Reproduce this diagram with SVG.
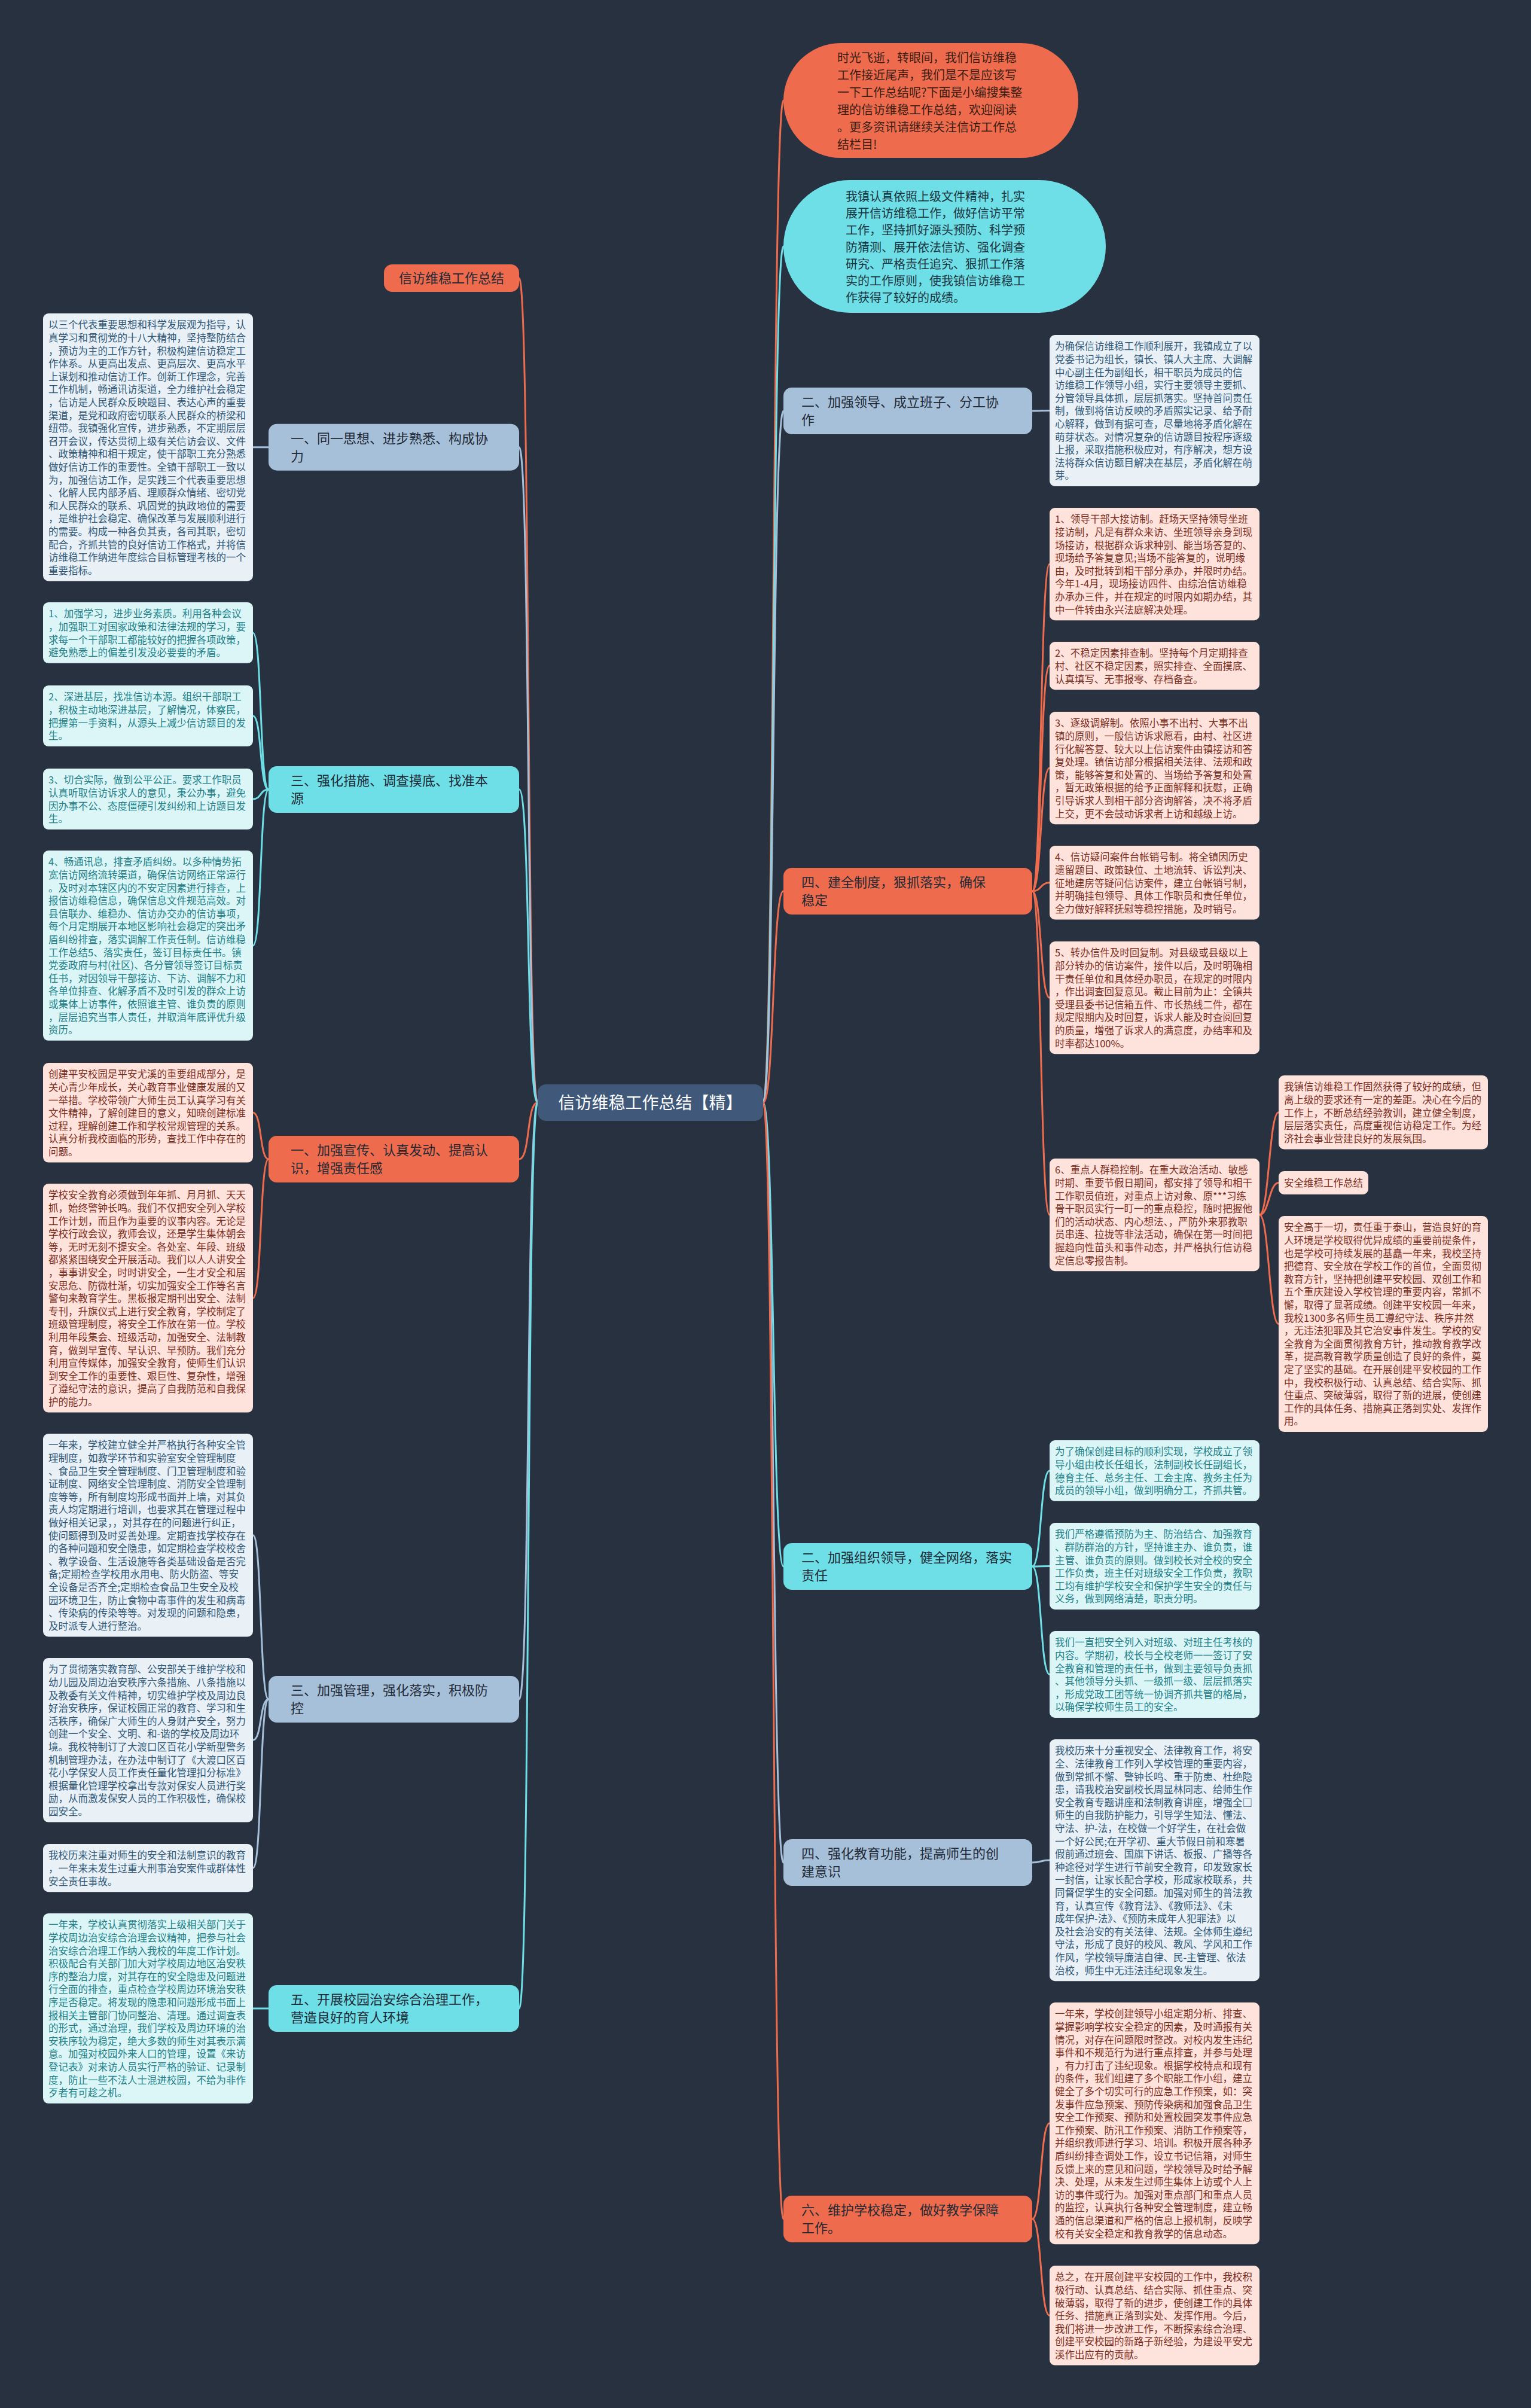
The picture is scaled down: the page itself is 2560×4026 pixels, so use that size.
<svg xmlns="http://www.w3.org/2000/svg" width="2560" height="4026" viewBox="0 0 2560 4026">
<style>
text{font-family:"Noto Sans CJK SC","Noto Sans",sans-serif}
.c{fill:none;stroke-width:3;stroke-linecap:round}
.co{stroke:#ee6c4d}.cc{stroke:#6edfe6}.cb{stroke:#a7c0d9}
.lt{font-size:16.5px}
.lb{fill:#e9f0f6}.lc{fill:#dcf6f7}.lo{fill:#fde3dc}
.tb{fill:#2f5878}.tc{fill:#1d8088}.to{fill:#7c2e1e}
.bt{font-size:22px;fill:#1f2a36}
.nb{fill:#a7c0d9}.nc{fill:#6edfe6}.no{fill:#ee6c4d}
</style>
<rect width="2560" height="4026" fill="#283140"/>
<g id="connectors">
<path class="c co" d="M899,1843.5 C880,1843.5 887,465 868,465"/>
<path class="c cb" d="M899,1843.5 C880,1843.5 887,747.7 868,747.7"/>
<path class="c cc" d="M899,1843.5 C880,1843.5 887,1320 868,1320"/>
<path class="c co" d="M899,1843.5 C880,1843.5 887,1938 868,1938"/>
<path class="c cb" d="M899,1843.5 C880,1843.5 887,2841 868,2841"/>
<path class="c cc" d="M899,1843.5 C880,1843.5 887,3358 868,3358"/>
<path class="c co" d="M1276,1843.5 C1295,1843.5 1291,168 1310,168"/>
<path class="c cc" d="M1276,1843.5 C1295,1843.5 1291,412 1310,412"/>
<path class="c cb" d="M1276,1843.5 C1295,1843.5 1291,687 1310,687"/>
<path class="c co" d="M1276,1843.5 C1295,1843.5 1291,1490 1310,1490"/>
<path class="c cc" d="M1276,1843.5 C1295,1843.5 1291,2619 1310,2619"/>
<path class="c cb" d="M1276,1843.5 C1295,1843.5 1291,3114 1310,3114"/>
<path class="c co" d="M1276,1843.5 C1295,1843.5 1291,3710 1310,3710"/>
<path class="c cb" d="M449,747.7 C434,747.7 438,747.7 423,747.7"/>
<path class="c cc" d="M449,1320 C434,1320 438,1057.9 423,1057.9"/>
<path class="c cc" d="M449,1320 C434,1320 438,1196.9 423,1196.9"/>
<path class="c cc" d="M449,1320 C434,1320 438,1335.9 423,1335.9"/>
<path class="c cc" d="M449,1320 C434,1320 438,1580.9 423,1580.9"/>
<path class="c co" d="M449,1938 C434,1938 438,1860.3 423,1860.3"/>
<path class="c co" d="M449,1938 C434,1938 438,2170.3 423,2170.3"/>
<path class="c cb" d="M449,2841 C434,2841 438,2566.7 423,2566.7"/>
<path class="c cb" d="M449,2841 C434,2841 438,2909.3 423,2909.3"/>
<path class="c cb" d="M449,2841 C434,2841 438,3123.1 423,3123.1"/>
<path class="c cc" d="M449,3358 C434,3358 438,3357.9 423,3357.9"/>
<path class="c cb" d="M1726,687 C1742,687 1739,686.5 1755,686.5"/>
<path class="c co" d="M1726,1490 C1742,1490 1739,943.1 1755,943.1"/>
<path class="c co" d="M1726,1490 C1742,1490 1739,1113.1 1755,1113.1"/>
<path class="c co" d="M1726,1490 C1742,1490 1739,1284.1 1755,1284.1"/>
<path class="c co" d="M1726,1490 C1742,1490 1739,1475.7 1755,1475.7"/>
<path class="c co" d="M1726,1490 C1742,1490 1739,1668.1 1755,1668.1"/>
<path class="c co" d="M1726,1490 C1742,1490 1739,2031.1 1755,2031.1"/>
<path class="c co" d="M2106,2031.1 C2122,2031.1 2122,1859.7 2138,1859.7"/>
<path class="c co" d="M2106,2031.1 C2122,2031.1 2122,1977.5 2138,1977.5"/>
<path class="c co" d="M2106,2031.1 C2122,2031.1 2122,2213.5 2138,2213.5"/>
<path class="c cc" d="M1726,2619 C1742,2619 1739,2458.9 1755,2458.9"/>
<path class="c cc" d="M1726,2619 C1742,2619 1739,2618.5 1755,2618.5"/>
<path class="c cc" d="M1726,2619 C1742,2619 1739,2799.5 1755,2799.5"/>
<path class="c cb" d="M1726,3114 C1742,3114 1739,3110.1 1755,3110.1"/>
<path class="c co" d="M1726,3710 C1742,3710 1739,3550.1 1755,3550.1"/>
<path class="c co" d="M1726,3710 C1742,3710 1739,3871.3 1755,3871.3"/>
</g>
<g id="center">
<rect x="899" y="1813" width="377" height="61" rx="14" fill="#40597a"/>
<text x="1087.5" y="1854" font-size="28" fill="#ffffff" text-anchor="middle">信访维稳工作总结【精】</text>
</g>
<g id="intro-orange">
<rect x="1310" y="72" width="493" height="192" rx="96" class="no"/>
<text font-size="20" fill="#3a1d14" y="104.3"><tspan x="1400">时光飞逝，转眼间，我们信访维稳</tspan><tspan x="1400" dy="29">工作接近尾声，我们是不是应该写</tspan><tspan x="1400" dy="29">一下工作总结呢?下面是小编搜集整</tspan><tspan x="1400" dy="29">理的信访维稳工作总结，欢迎阅读</tspan><tspan x="1400" dy="29">。更多资讯请继续关注信访工作总</tspan><tspan x="1400" dy="29">结栏目!</tspan></text>
</g>
<g id="intro-cyan">
<rect x="1310" y="301" width="539" height="222" rx="111" class="nc"/>
<text font-size="20" fill="#1c3440" y="335.6"><tspan x="1414">我镇认真依照上级文件精神，扎实</tspan><tspan x="1414" dy="28.3">展开信访维稳工作，做好信访平常</tspan><tspan x="1414" dy="28.3">工作，坚持抓好源头预防、科学预</tspan><tspan x="1414" dy="28.3">防猜测、展开依法信访、强化调查</tspan><tspan x="1414" dy="28.3">研究、严格责任追究、狠抓工作落</tspan><tspan x="1414" dy="28.3">实的工作原则，使我镇信访维稳工</tspan><tspan x="1414" dy="28.3">作获得了较好的成绩。</tspan></text>
</g>
<g id="b-l0"><rect x="642" y="442" width="226" height="46" rx="14" class="no"/><text class="bt" x="667" y="473.4">信访维稳工作总结</text></g>
<g id="b-l1"><rect x="449" y="708.7" width="419" height="78" rx="14" class="nb"/><text class="bt" y="741.1"><tspan x="486">一、同一思想、进步熟悉、构成协</tspan><tspan x="486" dy="30">力</tspan></text></g>
<g id="b-l2"><rect x="449" y="1281" width="419" height="78" rx="14" class="nc"/><text class="bt" y="1313.4"><tspan x="486">三、强化措施、调查摸底、找准本</tspan><tspan x="486" dy="30">源</tspan></text></g>
<g id="b-l3"><rect x="449" y="1899" width="419" height="78" rx="14" class="no"/><text class="bt" y="1931.4"><tspan x="486">一、加强宣传、认真发动、提高认</tspan><tspan x="486" dy="30">识，增强责任感</tspan></text></g>
<g id="b-l4"><rect x="449" y="2802" width="419" height="78" rx="14" class="nb"/><text class="bt" y="2834.4"><tspan x="486">三、加强管理，强化落实，积极防</tspan><tspan x="486" dy="30">控</tspan></text></g>
<g id="b-l5"><rect x="449" y="3319" width="419" height="78" rx="14" class="nc"/><text class="bt" y="3351.4"><tspan x="486">五、开展校园治安综合治理工作，</tspan><tspan x="486" dy="30">营造良好的育人环境</tspan></text></g>
<g id="b-r1"><rect x="1310" y="648" width="416" height="78" rx="14" class="nb"/><text class="bt" y="680.4"><tspan x="1340">二、加强领导、成立班子、分工协</tspan><tspan x="1340" dy="30">作</tspan></text></g>
<g id="b-r2"><rect x="1310" y="1451" width="416" height="78" rx="14" class="no"/><text class="bt" y="1483.4"><tspan x="1340">四、建全制度，狠抓落实，确保</tspan><tspan x="1340" dy="30">稳定</tspan></text></g>
<g id="b-r3"><rect x="1310" y="2580" width="416" height="78" rx="14" class="nc"/><text class="bt" y="2612.4"><tspan x="1340">二、加强组织领导，健全网络，落实</tspan><tspan x="1340" dy="30">责任</tspan></text></g>
<g id="b-r4"><rect x="1310" y="3075" width="416" height="78" rx="14" class="nb"/><text class="bt" y="3107.4"><tspan x="1340">四、强化教育功能，提高师生的创</tspan><tspan x="1340" dy="30">建意识</tspan></text></g>
<g id="b-r5"><rect x="1310" y="3671" width="416" height="78" rx="14" class="no"/><text class="bt" y="3703.4"><tspan x="1340">六、维护学校稳定，做好教学保障</tspan><tspan x="1340" dy="30">工作。</tspan></text></g>
<g id="l1"><rect x="72" y="524" width="351" height="447.4" rx="9" class="lb"/><text class="lt tb" y="549.3"><tspan x="81">以三个代表重要思想和科学发展观为指导，认</tspan><tspan x="81" dy="21.6">真学习和贯彻党的十八大精神，坚持整防结合</tspan><tspan x="81" dy="21.6">，预访为主的工作方针，积极构建信访稳定工</tspan><tspan x="81" dy="21.6">作体系。从更高出发点、更高层次、更高水平</tspan><tspan x="81" dy="21.6">上谋划和推动信访工作。创新工作理念，完善</tspan><tspan x="81" dy="21.6">工作机制，畅通讯访渠道，全力维护社会稳定</tspan><tspan x="81" dy="21.6">，信访是人民群众反映题目、表达心声的重要</tspan><tspan x="81" dy="21.6">渠道，是党和政府密切联系人民群众的桥梁和</tspan><tspan x="81" dy="21.6">纽带。我镇强化宣传，进步熟悉，不定期层层</tspan><tspan x="81" dy="21.6">召开会议，传达贯彻上级有关信访会议、文件</tspan><tspan x="81" dy="21.6">、政策精神和相干规定，使干部职工充分熟悉</tspan><tspan x="81" dy="21.6">做好信访工作的重要性。全镇干部职工一致以</tspan><tspan x="81" dy="21.6">为，加强信访工作，是实践三个代表重要思想</tspan><tspan x="81" dy="21.6">、化解人民内部矛盾、理顺群众情绪、密切党</tspan><tspan x="81" dy="21.6">和人民群众的联系、巩固党的执政地位的需要</tspan><tspan x="81" dy="21.6">，是维护社会稳定、确保改革与发展顺利进行</tspan><tspan x="81" dy="21.6">的需要。构成一种各负其责，各司其职，密切</tspan><tspan x="81" dy="21.6">配合，齐抓共管的良好信访工作格式，并将信</tspan><tspan x="81" dy="21.6">访维稳工作纳进年度综合目标管理考核的一个</tspan><tspan x="81" dy="21.6">重要指标。</tspan></text></g>
<g id="l2a"><rect x="72" y="1007" width="351" height="101.8" rx="9" class="lc"/><text class="lt tc" y="1032.3"><tspan x="81">1、加强学习，进步业务素质。利用各种会议</tspan><tspan x="81" dy="21.6">，加强职工对国家政策和法律法规的学习，要</tspan><tspan x="81" dy="21.6">求每一个干部职工都能较好的把握各项政策，</tspan><tspan x="81" dy="21.6">避免熟悉上的偏差引发没必要要的矛盾。</tspan></text></g>
<g id="l2b"><rect x="72" y="1146" width="351" height="101.8" rx="9" class="lc"/><text class="lt tc" y="1171.3"><tspan x="81">2、深进基层，找准信访本源。组织干部职工</tspan><tspan x="81" dy="21.6">，积极主动地深进基层，了解情况，体察民，</tspan><tspan x="81" dy="21.6">把握第一手资料，从源头上减少信访题目的发</tspan><tspan x="81" dy="21.6">生。</tspan></text></g>
<g id="l2c"><rect x="72" y="1285" width="351" height="101.8" rx="9" class="lc"/><text class="lt tc" y="1310.3"><tspan x="81">3、切合实际，做到公平公正。要求工作职员</tspan><tspan x="81" dy="21.6">认真听取信访诉求人的意见，秉公办事，避免</tspan><tspan x="81" dy="21.6">因办事不公、态度僵硬引发纠纷和上访题目发</tspan><tspan x="81" dy="21.6">生。</tspan></text></g>
<g id="l2d"><rect x="72" y="1422" width="351" height="317.8" rx="9" class="lc"/><text class="lt tc" y="1447.3"><tspan x="81">4、畅通讯息，排查矛盾纠纷。以多种情势拓</tspan><tspan x="81" dy="21.6">宽信访网络流转渠道，确保信访网络正常运行</tspan><tspan x="81" dy="21.6">。及时对本辖区内的不安定因素进行排查，上</tspan><tspan x="81" dy="21.6">报信访维稳信息，确保信息文件规范高效。对</tspan><tspan x="81" dy="21.6">县信联办、维稳办、信访办交办的信访事项，</tspan><tspan x="81" dy="21.6">每个月定期展开本地区影响社会稳定的突出矛</tspan><tspan x="81" dy="21.6">盾纠纷排查，落实调解工作责任制。信访维稳</tspan><tspan x="81" dy="21.6">工作总结5、落实责任，签订目标责任书。镇</tspan><tspan x="81" dy="21.6">党委政府与村(社区)、各分管领导签订目标责</tspan><tspan x="81" dy="21.6">任书，对因领导干部接访、下访、调解不力和</tspan><tspan x="81" dy="21.6">各单位排查、化解矛盾不及时引发的群众上访</tspan><tspan x="81" dy="21.6">或集体上访事件，依照谁主管、谁负责的原则</tspan><tspan x="81" dy="21.6">，层层追究当事人责任，并取消年底评优升级</tspan><tspan x="81" dy="21.6">资历。</tspan></text></g>
<g id="l3a"><rect x="72" y="1777" width="351" height="166.6" rx="9" class="lo"/><text class="lt to" y="1802.3"><tspan x="81">创建平安校园是平安尤溪的重要组成部分，是</tspan><tspan x="81" dy="21.6">关心青少年成长，关心教育事业健康发展的又</tspan><tspan x="81" dy="21.6">一举措。学校带领广大师生员工认真学习有关</tspan><tspan x="81" dy="21.6">文件精神，了解创建目的意义，知晓创建标准</tspan><tspan x="81" dy="21.6">过程，理解创建工作和学校常规管理的关系。</tspan><tspan x="81" dy="21.6">认真分析我校面临的形势，查找工作中存在的</tspan><tspan x="81" dy="21.6">问题。</tspan></text></g>
<g id="l3b"><rect x="72" y="1979" width="351" height="382.6" rx="9" class="lo"/><text class="lt to" y="2004.3"><tspan x="81">学校安全教育必须做到年年抓、月月抓、天天</tspan><tspan x="81" dy="21.6">抓，始终警钟长鸣。我们不仅把安全列入学校</tspan><tspan x="81" dy="21.6">工作计划，而且作为重要的议事内容。无论是</tspan><tspan x="81" dy="21.6">学校行政会议，教师会议，还是学生集体朝会</tspan><tspan x="81" dy="21.6">等，无时无刻不提安全。各处室、年段、班级</tspan><tspan x="81" dy="21.6">都紧紧围绕安全开展活动。我们以人人讲安全</tspan><tspan x="81" dy="21.6">，事事讲安全，时时讲安全，一生才安全和居</tspan><tspan x="81" dy="21.6">安思危、防微杜渐，切实加强安全工作等名言</tspan><tspan x="81" dy="21.6">警句来教育学生。黑板报定期刊出安全、法制</tspan><tspan x="81" dy="21.6">专刊，升旗仪式上进行安全教育，学校制定了</tspan><tspan x="81" dy="21.6">班级管理制度，将安全工作放在第一位。学校</tspan><tspan x="81" dy="21.6">利用年段集会、班级活动，加强安全、法制教</tspan><tspan x="81" dy="21.6">育，做到早宣传、早认识、早预防。我们充分</tspan><tspan x="81" dy="21.6">利用宣传媒体，加强安全教育，使师生们认识</tspan><tspan x="81" dy="21.6">到安全工作的重要性、艰巨性、复杂性，增强</tspan><tspan x="81" dy="21.6">了遵纪守法的意识，提高了自我防范和自我保</tspan><tspan x="81" dy="21.6">护的能力。</tspan></text></g>
<g id="l4a"><rect x="72" y="2397" width="351" height="339.4" rx="9" class="lb"/><text class="lt tb" y="2422.3"><tspan x="81">一年来，学校建立健全并严格执行各种安全管</tspan><tspan x="81" dy="21.6">理制度，如教学环节和实验室安全管理制度</tspan><tspan x="81" dy="21.6">、食品卫生安全管理制度、门卫管理制度和验</tspan><tspan x="81" dy="21.6">证制度、网络安全管理制度、消防安全管理制</tspan><tspan x="81" dy="21.6">度等等，所有制度均形成书面并上墙，对其负</tspan><tspan x="81" dy="21.6">责人均定期进行培训，也要求其在管理过程中</tspan><tspan x="81" dy="21.6">做好相关记录，，对其存在的问题进行纠正，</tspan><tspan x="81" dy="21.6">使问题得到及时妥善处理。定期查找学校存在</tspan><tspan x="81" dy="21.6">的各种问题和安全隐患，如定期检查学校校舍</tspan><tspan x="81" dy="21.6">、教学设备、生活设施等各类基础设备是否完</tspan><tspan x="81" dy="21.6">备;定期检查学校用水用电、防火防盗、等安</tspan><tspan x="81" dy="21.6">全设备是否齐全;定期检查食品卫生安全及校</tspan><tspan x="81" dy="21.6">园环境卫生，防止食物中毒事件的发生和病毒</tspan><tspan x="81" dy="21.6">、传染病的传染等等。对发现的问题和隐患，</tspan><tspan x="81" dy="21.6">及时派专人进行整治。</tspan></text></g>
<g id="l4b"><rect x="72" y="2772" width="351" height="274.6" rx="9" class="lb"/><text class="lt tb" y="2797.3"><tspan x="81">为了贯彻落实教育部、公安部关于维护学校和</tspan><tspan x="81" dy="21.6">幼儿园及周边治安秩序六条措施、八条措施以</tspan><tspan x="81" dy="21.6">及教委有关文件精神，切实维护学校及周边良</tspan><tspan x="81" dy="21.6">好治安秩序，保证校园正常的教育、学习和生</tspan><tspan x="81" dy="21.6">活秩序，确保广大师生的人身财产安全，努力</tspan><tspan x="81" dy="21.6">创建一个安全、文明、和-谐的学校及周边环</tspan><tspan x="81" dy="21.6">境。我校特制订了大渡口区百花小学新型警务</tspan><tspan x="81" dy="21.6">机制管理办法，在办法中制订了《大渡口区百</tspan><tspan x="81" dy="21.6">花小学保安人员工作责任量化管理扣分标准》</tspan><tspan x="81" dy="21.6">根据量化管理学校拿出专款对保安人员进行奖</tspan><tspan x="81" dy="21.6">励，从而激发保安人员的工作积极性，确保校</tspan><tspan x="81" dy="21.6">园安全。</tspan></text></g>
<g id="l4c"><rect x="72" y="3083" width="351" height="80.2" rx="9" class="lb"/><text class="lt tb" y="3108.3"><tspan x="81">我校历来注重对师生的安全和法制意识的教育</tspan><tspan x="81" dy="21.6">，一年来未发生过重大刑事治安案件或群体性</tspan><tspan x="81" dy="21.6">安全责任事故。</tspan></text></g>
<g id="l5"><rect x="72" y="3199" width="351" height="317.8" rx="9" class="lc"/><text class="lt tc" y="3224.3"><tspan x="81">一年来，学校认真贯彻落实上级相关部门关于</tspan><tspan x="81" dy="21.6">学校周边治安综合治理会议精神，把参与社会</tspan><tspan x="81" dy="21.6">治安综合治理工作纳入我校的年度工作计划。</tspan><tspan x="81" dy="21.6">积极配合有关部门加大对学校周边地区治安秩</tspan><tspan x="81" dy="21.6">序的整治力度，对其存在的安全隐患及问题进</tspan><tspan x="81" dy="21.6">行全面的排查，重点检查学校周边环境治安秩</tspan><tspan x="81" dy="21.6">序是否稳定。将发现的隐患和问题形成书面上</tspan><tspan x="81" dy="21.6">报相关主管部门协同整治、清理。通过调查表</tspan><tspan x="81" dy="21.6">的形式，通过治理，我们学校及周边环境的治</tspan><tspan x="81" dy="21.6">安秩序较为稳定，绝大多数的师生对其表示满</tspan><tspan x="81" dy="21.6">意。加强对校园外来人口的管理，设置《来访</tspan><tspan x="81" dy="21.6">登记表》对来访人员实行严格的验证、记录制</tspan><tspan x="81" dy="21.6">度，防止一些不法人士混进校园，不给为非作</tspan><tspan x="81" dy="21.6">歹者有可趁之机。</tspan></text></g>
<g id="r1"><rect x="1755" y="560" width="351" height="253" rx="9" class="lb"/><text class="lt tb" y="585.3"><tspan x="1764">为确保信访维稳工作顺利展开，我镇成立了以</tspan><tspan x="1764" dy="21.6">党委书记为组长，镇长、镇人大主席、大调解</tspan><tspan x="1764" dy="21.6">中心副主任为副组长，相干职员为成员的信</tspan><tspan x="1764" dy="21.6">访维稳工作领导小组，实行主要领导主要抓、</tspan><tspan x="1764" dy="21.6">分管领导具体抓，层层抓落实。坚持首问责任</tspan><tspan x="1764" dy="21.6">制，做到将信访反映的矛盾照实记录、给予耐</tspan><tspan x="1764" dy="21.6">心解释，做到有据可查，尽量地将矛盾化解在</tspan><tspan x="1764" dy="21.6">萌芽状态。对情况复杂的信访题目按程序逐级</tspan><tspan x="1764" dy="21.6">上报，采取措施积极应对，有序解决，想方设</tspan><tspan x="1764" dy="21.6">法将群众信访题目解决在基层，矛盾化解在萌</tspan><tspan x="1764" dy="21.6">芽。</tspan></text></g>
<g id="r2a"><rect x="1755" y="849" width="351" height="188.2" rx="9" class="lo"/><text class="lt to" y="874.3"><tspan x="1764">1、领导干部大接访制。赶场天坚持领导坐班</tspan><tspan x="1764" dy="21.6">接访制，凡是有群众来访、坐班领导亲身到现</tspan><tspan x="1764" dy="21.6">场接访，根据群众诉求种别、能当场答复的、</tspan><tspan x="1764" dy="21.6">现场给予答复意见;当场不能答复的，说明缘</tspan><tspan x="1764" dy="21.6">由，及时批转到相干部分承办，并限时办结。</tspan><tspan x="1764" dy="21.6">今年1-4月，现场接访四件、由综治信访维稳</tspan><tspan x="1764" dy="21.6">办承办三件，并在规定的时限内如期办结，其</tspan><tspan x="1764" dy="21.6">中一件转由永兴法庭解决处理。</tspan></text></g>
<g id="r2b"><rect x="1755" y="1073" width="351" height="80.2" rx="9" class="lo"/><text class="lt to" y="1098.3"><tspan x="1764">2、不稳定因素排查制。坚持每个月定期排查</tspan><tspan x="1764" dy="21.6">村、社区不稳定因素，照实排查、全面摸底、</tspan><tspan x="1764" dy="21.6">认真填写、无事报零、存档备查。</tspan></text></g>
<g id="r2c"><rect x="1755" y="1190" width="351" height="188.2" rx="9" class="lo"/><text class="lt to" y="1215.3"><tspan x="1764">3、逐级调解制。依照小事不出村、大事不出</tspan><tspan x="1764" dy="21.6">镇的原则，一般信访诉求愿看，由村、社区进</tspan><tspan x="1764" dy="21.6">行化解答复、较大以上信访案件由镇接访和答</tspan><tspan x="1764" dy="21.6">复处理。镇信访部分根据相关法律、法规和政</tspan><tspan x="1764" dy="21.6">策，能够答复和处置的、当场给予答复和处置</tspan><tspan x="1764" dy="21.6">，暂无政策根据的给予正面解释和抚慰，正确</tspan><tspan x="1764" dy="21.6">引导诉求人到相干部分咨询解答，决不将矛盾</tspan><tspan x="1764" dy="21.6">上交，更不会鼓动诉求者上访和越级上访。</tspan></text></g>
<g id="r2d"><rect x="1755" y="1414" width="351" height="123.4" rx="9" class="lo"/><text class="lt to" y="1439.3"><tspan x="1764">4、信访疑问案件台帐销号制。将全镇因历史</tspan><tspan x="1764" dy="21.6">遗留题目、政策缺位、土地流转、诉讼判决、</tspan><tspan x="1764" dy="21.6">征地建房等疑问信访案件，建立台帐销号制，</tspan><tspan x="1764" dy="21.6">并明确挂包领导、具体工作职员和责任单位，</tspan><tspan x="1764" dy="21.6">全力做好解释抚慰等稳控措施，及时销号。</tspan></text></g>
<g id="r2e"><rect x="1755" y="1574" width="351" height="188.2" rx="9" class="lo"/><text class="lt to" y="1599.3"><tspan x="1764">5、转办信件及时回复制。对县级或县级以上</tspan><tspan x="1764" dy="21.6">部分转办的信访案件，接件以后，及时明确相</tspan><tspan x="1764" dy="21.6">干责任单位和具体经办职员，在规定的时限内</tspan><tspan x="1764" dy="21.6">，作出调查回复意见。截止目前为止：全镇共</tspan><tspan x="1764" dy="21.6">受理县委书记信箱五件、市长热线二件，都在</tspan><tspan x="1764" dy="21.6">规定限期内及时回复，诉求人能及时查阅回复</tspan><tspan x="1764" dy="21.6">的质量，增强了诉求人的满意度，办结率和及</tspan><tspan x="1764" dy="21.6">时率都达100%。</tspan></text></g>
<g id="r2f"><rect x="1755" y="1937" width="351" height="188.2" rx="9" class="lo"/><text class="lt to" y="1962.3"><tspan x="1764">6、重点人群稳控制。在重大政治活动、敏感</tspan><tspan x="1764" dy="21.6">时期、重要节假日期间，都安排了领导和相干</tspan><tspan x="1764" dy="21.6">工作职员值班，对重点上访对象、原***习练</tspan><tspan x="1764" dy="21.6">骨干职员实行一盯一的重点稳控，随时把握他</tspan><tspan x="1764" dy="21.6">们的活动状态、内心想法、，严防外来邪教职</tspan><tspan x="1764" dy="21.6">员串连、拉拢等非法活动，确保在第一时间把</tspan><tspan x="1764" dy="21.6">握趋向性苗头和事件动态，并严格执行信访稳</tspan><tspan x="1764" dy="21.6">定信息零报告制。</tspan></text></g>
<g id="r3a"><rect x="2138" y="1798" width="350" height="123.4" rx="9" class="lo"/><text class="lt to" y="1823.3"><tspan x="2147">我镇信访维稳工作固然获得了较好的成绩，但</tspan><tspan x="2147" dy="21.6">离上级的要求还有一定的差距。决心在今后的</tspan><tspan x="2147" dy="21.6">工作上，不断总结经验教训，建立健全制度，</tspan><tspan x="2147" dy="21.6">层层落实责任，高度重视信访稳定工作。为经</tspan><tspan x="2147" dy="21.6">济社会事业营建良好的发展氛围。</tspan></text></g>
<g id="r3s"><rect x="2138" y="1958" width="150" height="39" rx="9" class="lo"/><text class="lt to" x="2147" y="1983.5">安全维稳工作总结</text></g>
<g id="r3b"><rect x="2138" y="2033" width="350" height="361" rx="9" class="lo"/><text class="lt to" y="2058.3"><tspan x="2147">安全高于一切，责任重于泰山，营造良好的育</tspan><tspan x="2147" dy="21.6">人环境是学校取得优异成绩的重要前提条件，</tspan><tspan x="2147" dy="21.6">也是学校可持续发展的基矗一年来，我校坚持</tspan><tspan x="2147" dy="21.6">把德育、安全放在学校工作的首位，全面贯彻</tspan><tspan x="2147" dy="21.6">教育方针，坚持把创建平安校园、双创工作和</tspan><tspan x="2147" dy="21.6">五个重庆建设入学校管理的重要内容，常抓不</tspan><tspan x="2147" dy="21.6">懈，取得了显著成绩。创建平安校园一年来，</tspan><tspan x="2147" dy="21.6">我校1300多名师生员工遵纪守法、秩序井然</tspan><tspan x="2147" dy="21.6">，无违法犯罪及其它治安事件发生。学校的安</tspan><tspan x="2147" dy="21.6">全教育为全面贯彻教育方针，推动教育教学改</tspan><tspan x="2147" dy="21.6">革，提高教育教学质量创造了良好的条件，奠</tspan><tspan x="2147" dy="21.6">定了坚实的基础。在开展创建平安校园的工作</tspan><tspan x="2147" dy="21.6">中，我校积极行动、认真总结、结合实际、抓</tspan><tspan x="2147" dy="21.6">住重点、突破薄弱，取得了新的进展，使创建</tspan><tspan x="2147" dy="21.6">工作的具体任务、措施真正落到实处、发挥作</tspan><tspan x="2147" dy="21.6">用。</tspan></text></g>
<g id="r4a"><rect x="1755" y="2408" width="351" height="101.8" rx="9" class="lc"/><text class="lt tc" y="2433.3"><tspan x="1764">为了确保创建目标的顺利实现，学校成立了领</tspan><tspan x="1764" dy="21.6">导小组由校长任组长，法制副校长任副组长，</tspan><tspan x="1764" dy="21.6">德育主任、总务主任、工会主席、教务主任为</tspan><tspan x="1764" dy="21.6">成员的领导小组，做到明确分工，齐抓共管。</tspan></text></g>
<g id="r4b"><rect x="1755" y="2546" width="351" height="145" rx="9" class="lc"/><text class="lt tc" y="2571.3"><tspan x="1764">我们严格遵循预防为主、防治结合、加强教育</tspan><tspan x="1764" dy="21.6">、群防群治的方针，坚持谁主办、谁负责，谁</tspan><tspan x="1764" dy="21.6">主管、谁负责的原则。做到校长对全校的安全</tspan><tspan x="1764" dy="21.6">工作负责，班主任对班级安全工作负责，教职</tspan><tspan x="1764" dy="21.6">工均有维护学校安全和保护学生安全的责任与</tspan><tspan x="1764" dy="21.6">义务，做到网络清楚，职责分明。</tspan></text></g>
<g id="r4c"><rect x="1755" y="2727" width="351" height="145" rx="9" class="lc"/><text class="lt tc" y="2752.3"><tspan x="1764">我们一直把安全列入对班级、对班主任考核的</tspan><tspan x="1764" dy="21.6">内容。学期初，校长与全校老师一一签订了安</tspan><tspan x="1764" dy="21.6">全教育和管理的责任书，做到主要领导负责抓</tspan><tspan x="1764" dy="21.6">、其他领导分头抓、一级抓一级、层层抓落实</tspan><tspan x="1764" dy="21.6">，形成党政工团等统一协调齐抓共管的格局，</tspan><tspan x="1764" dy="21.6">以确保学校师生员工的安全。</tspan></text></g>
<g id="r5"><rect x="1755" y="2908" width="351" height="404.2" rx="9" class="lb"/><text class="lt tb" y="2933.3"><tspan x="1764">我校历来十分重视安全、法律教育工作，将安</tspan><tspan x="1764" dy="21.6">全、法律教育工作列入学校管理的重要内容，</tspan><tspan x="1764" dy="21.6">做到常抓不懈、警钟长鸣、重于防患、杜绝隐</tspan><tspan x="1764" dy="21.6">患，请我校治安副校长周显林同志、给师生作</tspan><tspan x="1764" dy="21.6">安全教育专题讲座和法制教育讲座，增强全□</tspan><tspan x="1764" dy="21.6">师生的自我防护能力，引导学生知法、懂法、</tspan><tspan x="1764" dy="21.6">守法、护-法，在校做一个好学生，在社会做</tspan><tspan x="1764" dy="21.6">一个好公民;在开学初、重大节假日前和寒暑</tspan><tspan x="1764" dy="21.6">假前通过班会、国旗下讲话、板报、广播等各</tspan><tspan x="1764" dy="21.6">种途径对学生进行节前安全教育，印发致家长</tspan><tspan x="1764" dy="21.6">一封信，让家长配合学校，形成家校联系，共</tspan><tspan x="1764" dy="21.6">同督促学生的安全问题。加强对师生的普法教</tspan><tspan x="1764" dy="21.6">育，认真宣传《教育法》、《教师法》、《未</tspan><tspan x="1764" dy="21.6">成年保护-法》、《预防未成年人犯罪法》以</tspan><tspan x="1764" dy="21.6">及社会治安的有关法律、法规。全体师生遵纪</tspan><tspan x="1764" dy="21.6">守法，形成了良好的校风、教风、学风和工作</tspan><tspan x="1764" dy="21.6">作风，学校领导廉洁自律、民-主管理、依法</tspan><tspan x="1764" dy="21.6">治校，师生中无违法违纪现象发生。</tspan></text></g>
<g id="r6a"><rect x="1755" y="3348" width="351" height="404.2" rx="9" class="lo"/><text class="lt to" y="3373.3"><tspan x="1764">一年来，学校创建领导小组定期分析、排查、</tspan><tspan x="1764" dy="21.6">掌握影响学校安全稳定的因素，及时通报有关</tspan><tspan x="1764" dy="21.6">情况，对存在问题限时整改。对校内发生违纪</tspan><tspan x="1764" dy="21.6">事件和不规范行为进行重点排查，并参与处理</tspan><tspan x="1764" dy="21.6">，有力打击了违纪现象。根据学校特点和现有</tspan><tspan x="1764" dy="21.6">的条件，我们组建了多个职能工作小组，建立</tspan><tspan x="1764" dy="21.6">健全了多个切实可行的应急工作预案，如：突</tspan><tspan x="1764" dy="21.6">发事件应急预案、预防传染病和加强食品卫生</tspan><tspan x="1764" dy="21.6">安全工作预案、预防和处置校园突发事件应急</tspan><tspan x="1764" dy="21.6">工作预案、防汛工作预案、消防工作预案等，</tspan><tspan x="1764" dy="21.6">并组织教师进行学习、培训。积极开展各种矛</tspan><tspan x="1764" dy="21.6">盾纠纷排查调处工作，设立书记信箱，对师生</tspan><tspan x="1764" dy="21.6">反馈上来的意见和问题，学校领导及时给予解</tspan><tspan x="1764" dy="21.6">决、处理，从未发生过师生集体上访或个人上</tspan><tspan x="1764" dy="21.6">访的事件或行为。加强对重点部门和重点人员</tspan><tspan x="1764" dy="21.6">的监控，认真执行各种安全管理制度，建立畅</tspan><tspan x="1764" dy="21.6">通的信息渠道和严格的信息上报机制，反映学</tspan><tspan x="1764" dy="21.6">校有关安全稳定和教育教学的信息动态。</tspan></text></g>
<g id="r6b"><rect x="1755" y="3788" width="351" height="166.6" rx="9" class="lo"/><text class="lt to" y="3813.3"><tspan x="1764">总之，在开展创建平安校园的工作中，我校积</tspan><tspan x="1764" dy="21.6">极行动、认真总结、结合实际、抓住重点、突</tspan><tspan x="1764" dy="21.6">破薄弱，取得了新的进步，使创建工作的具体</tspan><tspan x="1764" dy="21.6">任务、措施真正落到实处、发挥作用。今后，</tspan><tspan x="1764" dy="21.6">我们将进一步改进工作，不断探索综合治理、</tspan><tspan x="1764" dy="21.6">创建平安校园的新路子新经验，为建设平安尤</tspan><tspan x="1764" dy="21.6">溪作出应有的贡献。</tspan></text></g>
</svg>
